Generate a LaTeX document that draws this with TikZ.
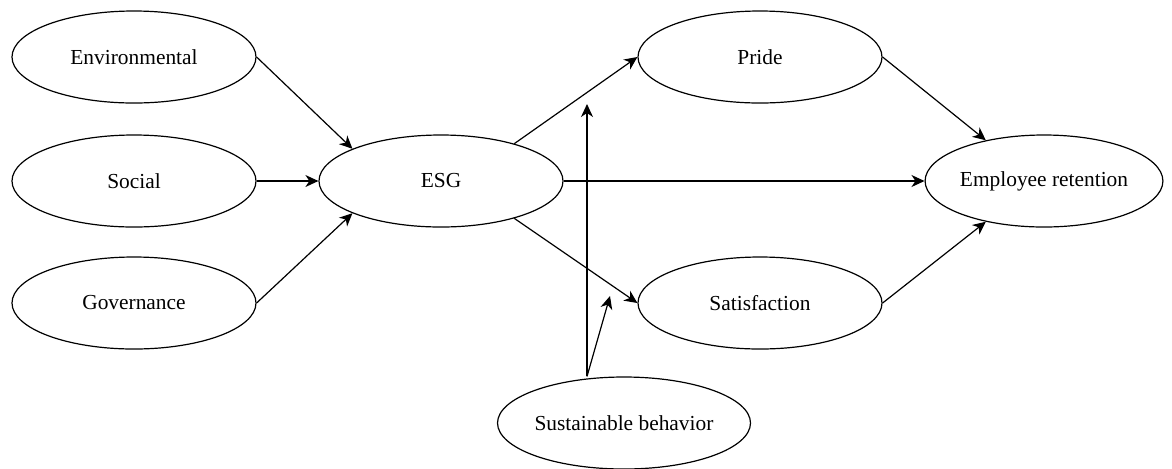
\documentclass[tikz,border=0pt]{standalone}
\usepackage{fontspec}
\setmainfont{Liberation Serif}
\usetikzlibrary{arrows.meta, shapes.geometric}
\begin{document}
\begin{tikzpicture}[x=0.5pt, y=-0.5pt,
    >={Stealth[length=6.5pt, width=6pt, inset=2pt]},
    constructo/.style={draw, ellipse, line width=0.6pt, inner sep=0pt,
      minimum width=122pt, minimum height=46pt,
      font=\fontsize{10.7}{13}\selectfont},
    flecha/.style={->, line width=0.6pt}]
  \useasboundingbox (0,0) rectangle (1172,468);

  % Dimensiones ESG
  \node[constructo] (env) at (134,57) {Environmental};
  \node[constructo] (soc) at (134,181) {Social};
  \node[constructo] (gov) at (134,303) {Governance};
  % Constructo central
  \node[constructo] (esg) at (441,181) {ESG};
  % Mediadores
  \node[constructo] (pride) at (760,57) {Pride};
  \node[constructo] (sat) at (760,303) {Satisfaction};
  % Resultado
  \node[constructo, minimum width=118pt] (ret) at (1044,181)
        {Employee retention};
  % Moderador
  \node[constructo] (sb) at (624,423) {Sustainable behavior};

  % Efectos directos
  \draw[flecha] (env.east) -- (esg.160);
  \draw[flecha] (soc.east) -- (esg.west);
  \draw[flecha] (gov.east) -- (esg.200);
  \draw[flecha] (esg.27) -- (pride.west);
  \draw[flecha] (esg.east) -- (ret.west);
  \draw[flecha] (esg.-27) -- (sat.west);
  \draw[flecha] (pride.east) -- (ret.145);
  \draw[flecha] (sat.east) -- (ret.215);

  % Moderacion
  \coordinate (modpride) at (587,104);
  \coordinate (modsat) at (610,296);
  \coordinate (sbtop) at (sb.north -| modpride);
  \draw[flecha] (sbtop) -- (modpride);
  \draw[flecha] (sbtop) -- (modsat);
\end{tikzpicture}
\end{document}
